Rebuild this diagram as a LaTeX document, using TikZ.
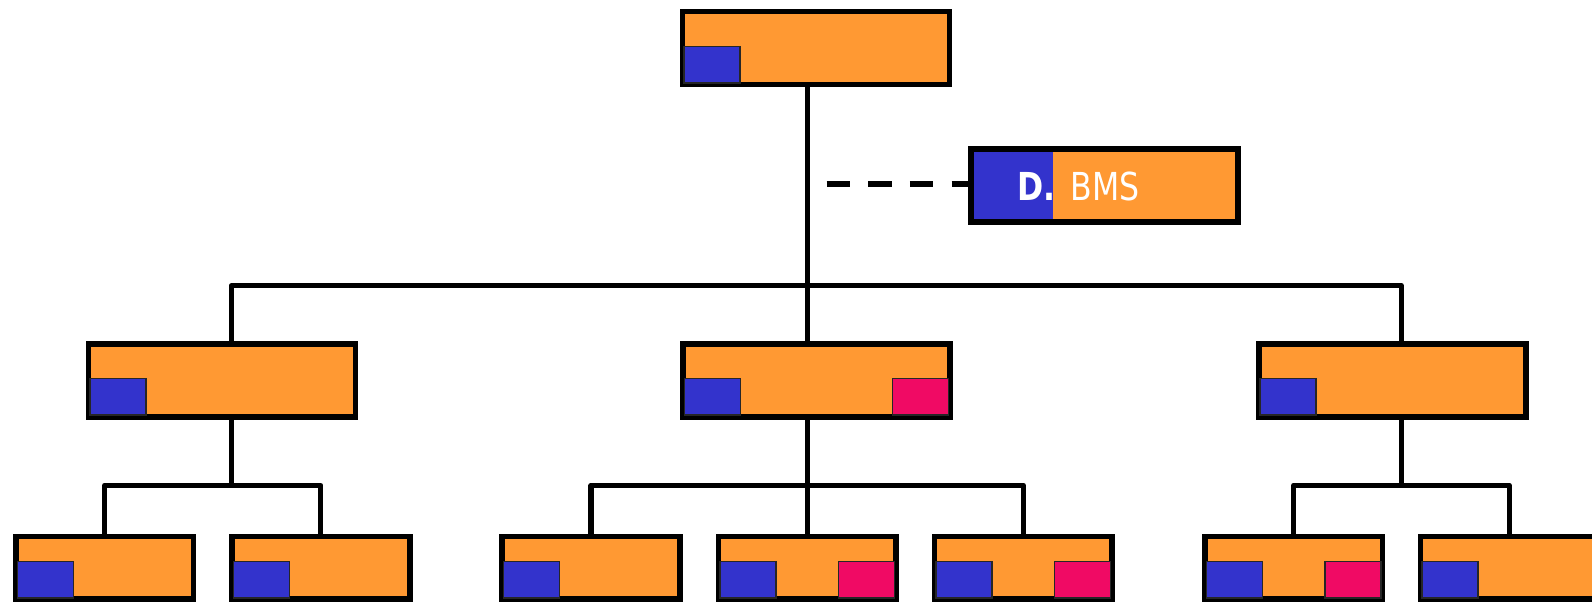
\documentclass[tikz,border=0pt]{standalone}
\usepackage{fontspec}
\usepackage{xcolor}
\usepackage{tikz}
\usetikzlibrary{positioning}
\newfontfamily\unitfont[FakeStretch=0.82]{DejaVu Sans}

\definecolor{unitorange}{RGB}{255,153,51}
\definecolor{tabblue}{RGB}{51,51,204}
\definecolor{tabred}{RGB}{240,10,100}

\tikzset{
  unit/.style={rectangle, draw=black, line width=5.6pt, fill=unitorange, inner sep=0pt, outer sep=0pt, minimum width=267pt, minimum height=73pt},
  leaf/.style={unit, minimum width=177.8pt, minimum height=62.3pt},
  bluetab/.style={rectangle, draw=black!85, line width=1.5pt, fill=tabblue, inner sep=0pt, outer sep=0pt, minimum width=56pt, minimum height=36.5pt, anchor=south west},
  redtab/.style={bluetab, fill=tabred, anchor=south east},
  link/.style={line width=5.2pt, line join=round},
  tabtext/.style={inner sep=0pt, text=white, font=\unitfont\fontsize{38.5}{42}\selectfont}
}

\begin{document}
\begin{tikzpicture}[x=1pt,y=-1pt]
\clip (0,0) rectangle (1592,603);

% head unit and its staff box
\node[unit] (top) at (816,48) {};
\node[bluetab] at ([shift={(1.5,-1.5)}]top.south west) {};
\node[unit, path picture={\fill[tabblue] (path picture bounding box.south west) rectangle ([xshift=82pt]path picture bounding box.north west);}] (dbms) at (1104.7,185.5) {};
\node[tabtext, anchor=base east] at ([shift={(84.5,14.5)}]dbms.west) {\bfseries D.};
\node[tabtext, anchor=base west] at ([shift={(99.2,14.5)}]dbms.west) {BMS};

% second level
\node[unit] (l2left) at (222,380.2) {};
\node[unit] (l2mid) at (816.3,380.2) {};
\node[unit] (l2right) at (1392.2,380.2) {};
\node[bluetab] at ([shift={(1.5,-1.5)}]l2left.south west) {};
\node[bluetab] at ([shift={(1.5,-1.5)}]l2mid.south west) {};
\node[redtab] at ([shift={(-1.5,-1.5)}]l2mid.south east) {};
\node[bluetab] at ([shift={(1.5,-1.5)}]l2right.south west) {};

% bottom row
\node[leaf] (b1) at (104.7,567.8) {};
\node[leaf] (b2) at (320.8,567.8) {};
\node[leaf] (b3) at (591,567.8) {};
\node[leaf] (b4) at (807.2,567.8) {};
\node[leaf] (b5) at (1023.3,567.8) {};
\node[leaf] (b6) at (1293.7,567.8) {};
\node[leaf] (b7) at (1509.2,567.8) {};
\foreach \n in {b1,b2,b3,b4,b5,b6,b7}
  \node[bluetab] at ([shift={(1.5,-0.8)}]\n.south west) {};
\foreach \n in {b4,b5,b6}
  \node[redtab] at ([shift={(-1.5,-0.8)}]\n.south east) {};

% junctions of the tree
\coordinate (busL) at (231.2,285.8);
\coordinate (busM) at (807.2,285.8);
\coordinate (busR) at (1401.2,285.8);
\coordinate (subL) at (231.2,485.3);
\coordinate (subM) at (807.2,485.3);
\coordinate (subR) at (1401.2,485.3);
\coordinate (dstart) at (826.7,184.2);

\draw[link] (top.south -| busM) -- (l2mid.north -| busM);
\draw[link] (l2left.north -| busL) -- (busL) -- (busR) -- (l2right.north -| busR);
\draw[link, line width=6.5pt, dash pattern=on 23.3pt off 18.3pt] (dstart) -- (dstart -| dbms.west); %staff line

\draw[link] (l2left.south -| subL) -- (subL);
\draw[link] (b1.north) |- (subL) -| (b2.north);
\draw[link] (l2mid.south -| subM) -- (b4.north);
\draw[link] (b3.north) |- (subM) -| (b5.north);
\draw[link] (l2right.south -| subR) -- (subR);
\draw[link] (b6.north) |- (subR) -| (b7.north);
\end{tikzpicture}
\end{document}
